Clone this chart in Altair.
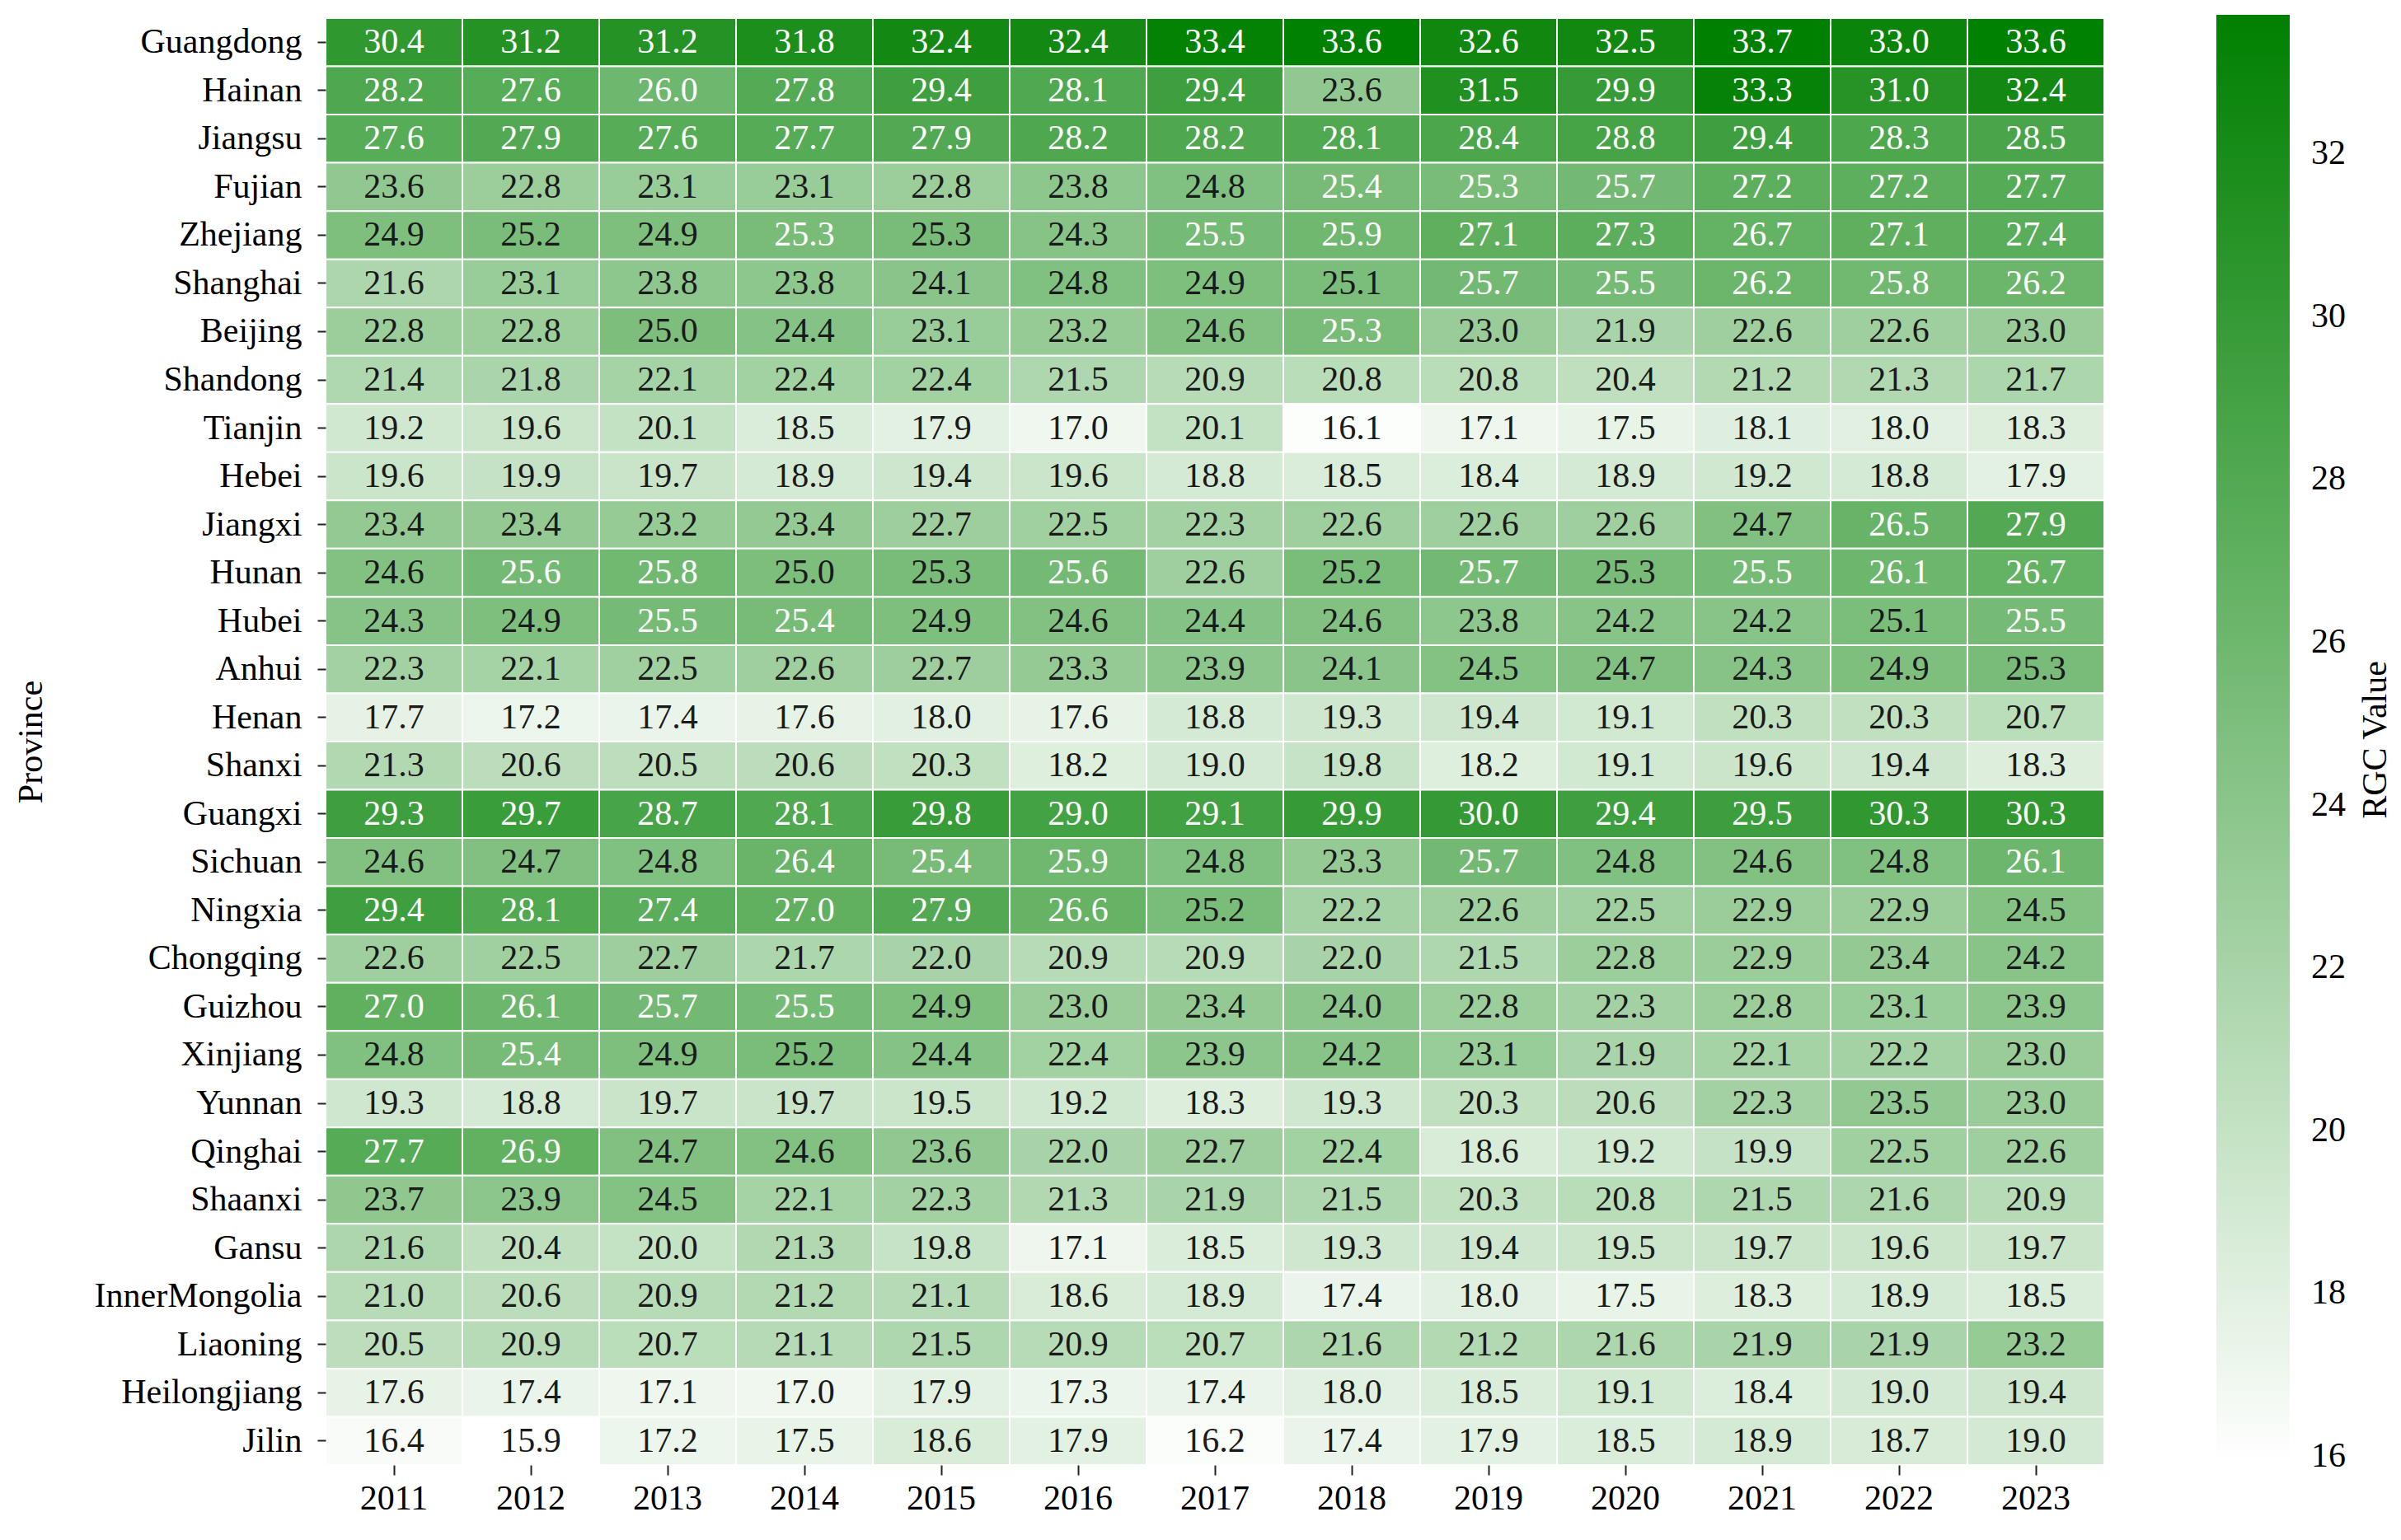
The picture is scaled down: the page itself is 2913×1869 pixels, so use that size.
import altair as alt
import pandas as pd

years = [str(y) for y in range(2011, 2024)]
provinces = ["Guangdong", "Hainan", "Jiangsu", "Fujian", "Zhejiang", "Shanghai", "Beijing",
             "Shandong", "Tianjin", "Hebei", "Jiangxi", "Hunan", "Hubei", "Anhui", "Henan",
             "Shanxi", "Guangxi", "Sichuan", "Ningxia", "Chongqing", "Guizhou", "Xinjiang",
             "Yunnan", "Qinghai", "Shaanxi", "Gansu", "InnerMongolia", "Liaoning",
             "Heilongjiang", "Jilin"]

guangdong = [30.4, 31.2, 31.2, 31.8, 32.4, 32.4, 33.4, 33.6, 32.6, 32.5, 33.7, 33.0, 33.6]
hainan = [28.2, 27.6, 26.0, 27.8, 29.4, 28.1, 29.4, 23.6, 31.5, 29.9, 33.3, 31.0, 32.4]
jiangsu = [27.6, 27.9, 27.6, 27.7, 27.9, 28.2, 28.2, 28.1, 28.4, 28.8, 29.4, 28.3, 28.5]
fujian = [23.6, 22.8, 23.1, 23.1, 22.8, 23.8, 24.8, 25.4, 25.34, 25.7, 27.2, 27.2, 27.7]
zhejiang = [24.9, 25.2, 24.9, 25.34, 25.27, 24.3, 25.5, 25.9, 27.1, 27.3, 26.7, 27.1, 27.4]
shanghai = [21.6, 23.1, 23.8, 23.8, 24.1, 24.8, 24.9, 25.1, 25.7, 25.5, 26.2, 25.8, 26.2]
beijing = [22.8, 22.8, 25.0, 24.4, 23.1, 23.2, 24.6, 25.34, 23.0, 21.9, 22.6, 22.6, 23.0]
shandong = [21.4, 21.8, 22.1, 22.4, 22.4, 21.5, 20.9, 20.8, 20.8, 20.4, 21.2, 21.3, 21.7]
tianjin = [19.2, 19.6, 20.1, 18.5, 17.9, 17.0, 20.1, 16.1, 17.1, 17.5, 18.1, 18.0, 18.3]
hebei = [19.6, 19.9, 19.7, 18.9, 19.4, 19.6, 18.8, 18.5, 18.4, 18.9, 19.2, 18.8, 17.9]
jiangxi = [23.4, 23.4, 23.2, 23.4, 22.7, 22.5, 22.3, 22.6, 22.6, 22.6, 24.7, 26.5, 27.9]
hunan = [24.6, 25.6, 25.8, 25.0, 25.27, 25.6, 22.6, 25.2, 25.7, 25.27, 25.5, 26.1, 26.7]
hubei = [24.3, 24.9, 25.5, 25.4, 24.9, 24.6, 24.4, 24.6, 23.8, 24.2, 24.2, 25.1, 25.5]
anhui = [22.3, 22.1, 22.5, 22.6, 22.7, 23.3, 23.9, 24.1, 24.5, 24.7, 24.3, 24.9, 25.27]
henan = [17.7, 17.2, 17.4, 17.6, 18.0, 17.6, 18.8, 19.3, 19.4, 19.1, 20.3, 20.3, 20.7]
shanxi = [21.3, 20.6, 20.5, 20.6, 20.3, 18.2, 19.0, 19.8, 18.2, 19.1, 19.6, 19.4, 18.3]
guangxi = [29.3, 29.7, 28.7, 28.1, 29.8, 29.0, 29.1, 29.9, 30.0, 29.4, 29.5, 30.3, 30.3]
sichuan = [24.6, 24.7, 24.8, 26.4, 25.4, 25.9, 24.8, 23.3, 25.7, 24.8, 24.6, 24.8, 26.1]
ningxia = [29.4, 28.1, 27.4, 27.0, 27.9, 26.6, 25.2, 22.2, 22.6, 22.5, 22.9, 22.9, 24.5]
chongqing = [22.6, 22.5, 22.7, 21.7, 22.0, 20.9, 20.9, 22.0, 21.5, 22.8, 22.9, 23.4, 24.2]
guizhou = [27.0, 26.1, 25.7, 25.5, 24.9, 23.0, 23.4, 24.0, 22.8, 22.3, 22.8, 23.1, 23.9]
xinjiang = [24.8, 25.4, 24.9, 25.2, 24.4, 22.4, 23.9, 24.2, 23.1, 21.9, 22.1, 22.2, 23.0]
yunnan = [19.3, 18.8, 19.7, 19.7, 19.5, 19.2, 18.3, 19.3, 20.3, 20.6, 22.3, 23.5, 23.0]
qinghai = [27.7, 26.9, 24.7, 24.6, 23.6, 22.0, 22.7, 22.4, 18.6, 19.2, 19.9, 22.5, 22.6]
shaanxi = [23.7, 23.9, 24.5, 22.1, 22.3, 21.3, 21.9, 21.5, 20.3, 20.8, 21.5, 21.6, 20.9]
gansu = [21.6, 20.4, 20.0, 21.3, 19.8, 17.1, 18.5, 19.3, 19.4, 19.5, 19.7, 19.6, 19.7]
innermongolia = [21.0, 20.6, 20.9, 21.2, 21.1, 18.6, 18.9, 17.4, 18.0, 17.5, 18.3, 18.9, 18.5]
liaoning = [20.5, 20.9, 20.7, 21.1, 21.5, 20.9, 20.7, 21.6, 21.2, 21.6, 21.9, 21.9, 23.2]
heilongjiang = [17.6, 17.4, 17.1, 17.0, 17.9, 17.3, 17.4, 18.0, 18.5, 19.1, 18.4, 19.0, 19.4]
jilin = [16.4, 15.9, 17.2, 17.5, 18.6, 17.9, 16.2, 17.4, 17.9, 18.5, 18.9, 18.7, 19.0]

rows = [guangdong, hainan, jiangsu, fujian, zhejiang, shanghai, beijing, shandong, tianjin,
        hebei, jiangxi, hunan, hubei, anhui, henan, shanxi, guangxi, sichuan, ningxia,
        chongqing, guizhou, xinjiang, yunnan, qinghai, shaanxi, gansu, innermongolia,
        liaoning, heilongjiang, jilin]

legend_ticks = [16, 18, 20, 22, 24, 26, 28, 30, 32]
colorbar_title = ["RGC Value"]

records = []
for p, vals in zip(provinces, rows):
    for y, v in zip(years, vals):
        records.append({"Province": p, "Year": y, "value": v})
df = pd.DataFrame(records)

FONT = "Liberation Serif"
vmin = min(min(r) for r in rows)
vmax = max(max(r) for r in rows)

x_enc = alt.X("Year:O", sort=years, title=None,
              scale=alt.Scale(paddingInner=0, paddingOuter=0),
              axis=alt.Axis(labelAngle=0, labelFont=FONT, labelFontSize=42, labelColor="#000000",
                            tickSize=12, tickWidth=2, tickColor="#222222", labelPadding=8,
                            domain=False, grid=False))
y_enc = alt.Y("Province:N", sort=provinces, title="Province",
              scale=alt.Scale(paddingInner=0, paddingOuter=0),
              axis=alt.Axis(labelFont=FONT, labelFontSize=42, labelColor="#000000",
                            labelLimit=0,
                            tickSize=10, tickWidth=2, tickColor="#222222", labelPadding=19,
                            domain=False, grid=False,
                            titleFont=FONT, titleFontSize=42, titleFontWeight="normal",
                            titleColor="#000000", titleAngle=270, titleX=-358, titleY=878,
                            titleAlign="center", titleBaseline="middle"))

base = alt.Chart(df)

rect = base.mark_rect(stroke="white", strokeWidth=2).encode(
    x=x_enc,
    y=y_enc,
    color=alt.Color("value:Q",
                    scale=alt.Scale(domain=[vmin, vmax], range=["#ffffff", "#008000"],
                                    interpolate="rgb"),
                    legend=alt.Legend(title=None, orient="none", legendX=2294, legendY=-4,
                                      direction="vertical", gradientLength=1759,
                                      gradientThickness=89, gradientStrokeWidth=0,
                                      values=legend_ticks, format="d",
                                      labelFont=FONT, labelFontSize=42,
                                      labelColor="#000000", labelOffset=26)),
)

text = base.mark_text(font=FONT, fontSize=42, align="center", baseline="middle").encode(
    x=alt.X("Year:O", sort=years),
    y=alt.Y("Province:N", sort=provinces),
    text=alt.Text("value:Q", format=".1f"),
    color=alt.condition("datum.value > 25.32", alt.value("#ffffff"), alt.value("#1a1a1a")),
)

cb_title = alt.Chart(pd.DataFrame({"t": colorbar_title})).mark_text(
    font=FONT, fontSize=42, angle=270, align="center", baseline="middle", color="#000000"
).encode(x=alt.value(2487), y=alt.value(876), text="t:N")

chart = alt.layer(rect, text, cb_title).properties(
    width=2158, height=1756,
    padding={"left": 387, "top": 14, "right": 352, "bottom": 83},
    autosize=alt.AutoSizeParams(type="none"),
).configure_view(strokeOpacity=0)

chart.save("out.html", embed_options={"renderer": "svg", "actions": False})
